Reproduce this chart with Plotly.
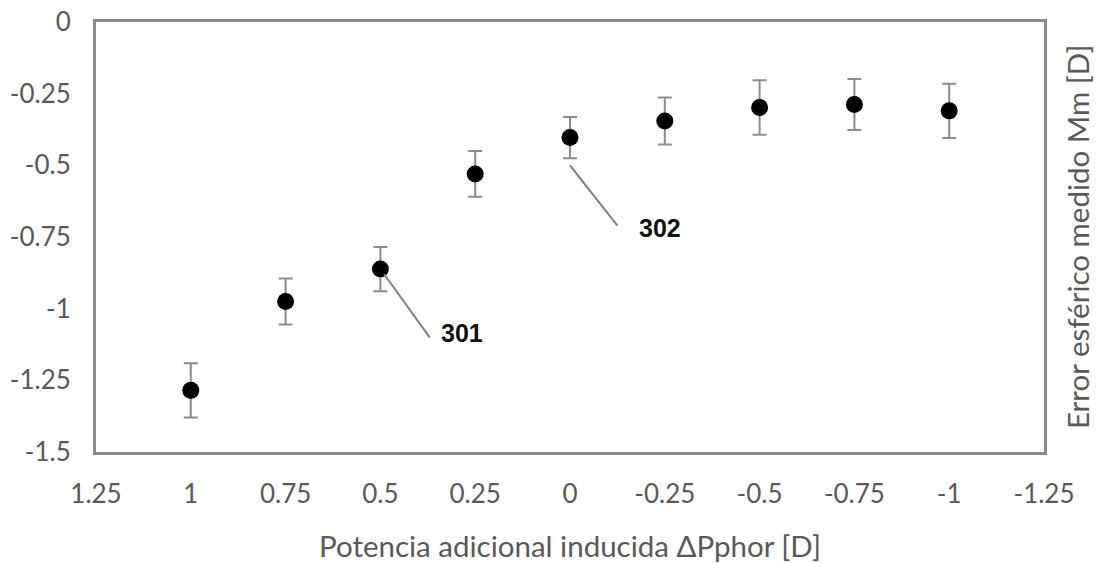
import plotly.graph_objects as go

# Data
x_vals = [1, 0.75, 0.5, 0.25, 0, -0.25, -0.5, -0.75, -1]
y_vals = [-1.285, -0.975, -0.862, -0.530, -0.403, -0.345, -0.298, -0.288, -0.310]
y_err = [0.095, 0.080, 0.077, 0.080, 0.072, 0.082, 0.095, 0.089, 0.095]

x_ticks = [1.25, 1, 0.75, 0.5, 0.25, 0, -0.25, -0.5, -0.75, -1, -1.25]
x_tick_text = ["1.25", "1", "0.75", "0.5", "0.25", "0", "-0.25", "-0.5", "-0.75", "-1", "-1.25"]
y_ticks = [0, -0.25, -0.5, -0.75, -1, -1.25, -1.5]
y_tick_text = ["0", "-0.25", "-0.5", "-0.75", "-1", "-1.25", "-1.5"]

# callout labels: (label, line start x, line start y, line end x, line end y, text x, text y)
callout_labels = ["301", "302"]
callout_line_x0 = [0.49, 0.0]
callout_line_y0 = [-0.88, -0.50]
callout_line_x1 = [0.37, -0.125]
callout_line_y1 = [-1.10, -0.71]
callout_text_x = [0.285, -0.237]
callout_text_y = [-1.085, -0.72]

x_title = "Potencia adicional inducida ΔPphor [D]"
y_title = "Error esférico medido Mm [D]"

GRAY = "#595959"
FRAME = "#8a8a8a"
FONT = "Lato, Open Sans"

fig = go.Figure()
fig.add_trace(go.Scatter(
    x=x_vals, y=y_vals, mode="markers",
    marker=dict(color="black", size=17),
    error_y=dict(type="data", array=y_err, visible=True, color="#8c8c8c", thickness=2, width=7),
    showlegend=False,
))

for lab, x0, y0, x1, y1, tx, ty in zip(callout_labels, callout_line_x0, callout_line_y0,
                                       callout_line_x1, callout_line_y1, callout_text_x, callout_text_y):
    fig.add_shape(type="line", x0=x0, y0=y0, x1=x1, y1=y1, xref="x", yref="y",
                  line=dict(color="#7f7f7f", width=2))
    fig.add_annotation(x=tx, y=ty, xref="x", yref="y", text="<b>%s</b>" % lab, showarrow=False,
                       font=dict(family="Liberation Sans, Arial", size=25, color="#111111"))

fig.add_annotation(x=1, y=0.5, xref="paper", yref="paper", xanchor="center", yanchor="middle",
                   xshift=33, text=y_title, textangle=-90, showarrow=False,
                   font=dict(family=FONT, size=29.5, color=GRAY))
fig.add_annotation(x=0.5, y=0, xref="paper", yref="paper", xanchor="center", yanchor="middle",
                   yshift=-93, text=x_title, showarrow=False,
                   font=dict(family=FONT, size=29.5, color=GRAY))

fig.update_layout(
    width=1097, height=563,
    margin=dict(l=96, r=53, t=22, b=111),
    paper_bgcolor="white", plot_bgcolor="white",
    font=dict(family=FONT, color=GRAY, size=26),
    xaxis=dict(range=[1.25, -1.25], tickvals=x_ticks, ticktext=x_tick_text, automargin=False,
               showgrid=False, zeroline=False, showline=True, linecolor=FRAME, linewidth=3,
               mirror=True, ticks="outside", ticklen=17, tickcolor="rgba(0,0,0,0)",
               tickfont=dict(size=26, color=GRAY)),
    yaxis=dict(range=[-1.5, 0], tickvals=y_ticks, ticktext=y_tick_text, automargin=False,
               showgrid=False, zeroline=False, showline=True, linecolor=FRAME, linewidth=3,
               mirror=True, ticks="outside", ticklen=17, tickcolor="rgba(0,0,0,0)",
               tickfont=dict(size=26, color=GRAY)),
)

fig.write_html("out.html", config={"displayModeBar": False},
               post_script="document.body.style.margin='0';document.body.style.overflow='hidden';")
